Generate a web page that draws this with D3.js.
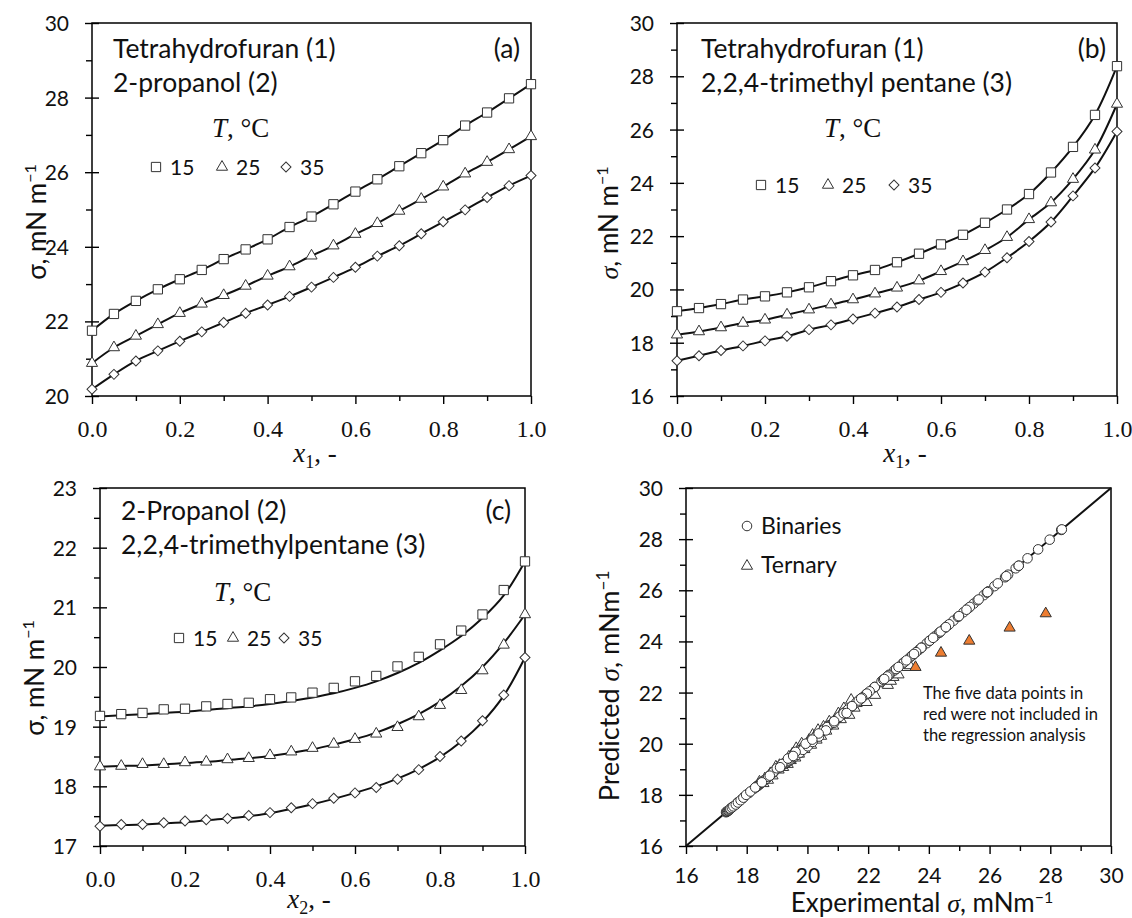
<!DOCTYPE html>
<html>
<head>
<meta charset="utf-8">
<script src="https://cdn.jsdelivr.net/npm/d3@7"></script>
<style>
  body { margin: 0; background: #fff; }
  svg text { font-family: Lato, "Open Sans", sans-serif; fill: #111; }
</style>
</head>
<body>
<svg id="chart" width="1132" height="918"></svg>
<script>
// mole fraction grid used in panels a-c
const xGrid = [0, 0.05, 0.1, 0.15, 0.2, 0.25, 0.3, 0.35, 0.4, 0.45, 0.5, 0.55, 0.6, 0.65, 0.7, 0.75, 0.8, 0.85, 0.9, 0.95, 1];

// (a) THF (1) + 2-propanol (2)
const a15 = [21.75, 22.2, 22.55, 22.86, 23.13, 23.38, 23.67, 23.93, 24.2, 24.53, 24.81, 25.14, 25.48, 25.81, 26.16, 26.51, 26.86, 27.25, 27.6, 27.98, 28.36];
const a25 = [20.88, 21.3, 21.61, 21.92, 22.22, 22.47, 22.7, 22.95, 23.22, 23.47, 23.76, 24.03, 24.34, 24.63, 24.96, 25.28, 25.61, 25.96, 26.27, 26.61, 26.96];
const a35 = [20.18, 20.58, 20.94, 21.21, 21.47, 21.72, 21.97, 22.22, 22.44, 22.67, 22.92, 23.18, 23.45, 23.75, 24.03, 24.35, 24.67, 24.99, 25.32, 25.64, 25.91];

// (b) THF (1) + isooctane (3)
const b15 = [19.18, 19.3, 19.45, 19.62, 19.74, 19.89, 20.08, 20.31, 20.53, 20.73, 21.02, 21.34, 21.69, 22.05, 22.5, 23.0, 23.58, 24.39, 25.35, 26.55, 28.38];
const b25 = [18.3, 18.42, 18.57, 18.74, 18.86, 19.05, 19.24, 19.43, 19.62, 19.84, 20.06, 20.33, 20.68, 21.05, 21.47, 21.96, 22.63, 23.26, 24.14, 25.24, 26.96];
const b35 = [17.32, 17.51, 17.71, 17.88, 18.07, 18.24, 18.49, 18.67, 18.89, 19.11, 19.34, 19.62, 19.89, 20.24, 20.65, 21.19, 21.8, 22.53, 23.51, 24.56, 25.93];

// (c) 2-propanol (2) + isooctane (3), measured and fitted
const c15 = [19.18, 19.21, 19.23, 19.29, 19.3, 19.34, 19.38, 19.4, 19.46, 19.49, 19.57, 19.65, 19.76, 19.85, 20.01, 20.17, 20.38, 20.61, 20.88, 21.29, 21.77];
const c25 = [18.33, 18.34, 18.37, 18.37, 18.4, 18.41, 18.45, 18.47, 18.52, 18.58, 18.64, 18.71, 18.79, 18.88, 18.99, 19.17, 19.36, 19.61, 19.94, 20.37, 20.88];
const c35 = [17.33, 17.36, 17.36, 17.39, 17.42, 17.44, 17.46, 17.51, 17.56, 17.64, 17.71, 17.8, 17.89, 17.98, 18.12, 18.28, 18.5, 18.76, 19.1, 19.53, 20.16];
const c15fit = [19.17, 19.19, 19.21, 19.23, 19.25, 19.28, 19.31, 19.34, 19.38, 19.43, 19.49, 19.56, 19.65, 19.76, 19.9, 20.07, 20.28, 20.52, 20.82, 21.2, 21.77];
const c25fit = [18.33, 18.34, 18.35, 18.37, 18.39, 18.41, 18.44, 18.47, 18.51, 18.56, 18.62, 18.7, 18.79, 18.9, 19.04, 19.21, 19.42, 19.68, 20.0, 20.4, 20.88];
const c35fit = [17.34, 17.35, 17.36, 17.38, 17.4, 17.43, 17.46, 17.5, 17.55, 17.62, 17.7, 17.79, 17.89, 18.0, 18.13, 18.29, 18.49, 18.75, 19.08, 19.52, 20.16];

// (d) ternary: experimental vs predicted
const ternExp = [18.42, 18.55, 18.6, 18.7, 18.78, 18.85, 18.96, 19.05, 19.08, 19.2, 19.26, 19.35, 19.39, 19.45, 19.51, 19.6, 19.63, 19.72, 19.81, 19.9, 20.05, 20.12, 20.17, 20.3, 20.35, 20.45, 20.53, 20.62, 20.72, 20.85, 21.02, 21.1, 21.2, 21.38, 21.44, 21.55, 21.62, 21.8, 21.95, 22.23, 22.41, 22.65, 22.75, 22.83, 23.0, 23.25, 23.37];
const ternPred = [18.51, 18.45, 18.64, 18.58, 18.84, 18.75, 19.1, 18.98, 19.16, 19.08, 19.29, 19.2, 19.49, 19.35, 19.62, 19.45, 19.82, 19.6, 20.0, 19.78, 20.14, 19.95, 20.34, 20.15, 20.53, 20.3, 20.66, 20.5, 20.86, 20.7, 21.18, 20.95, 21.38, 21.12, 21.71, 21.4, 21.58, 21.77, 21.62, 21.9, 22.35, 22.29, 22.45, 22.6, 22.7, 22.99, 23.06];
const exclExp = [23.56, 24.4, 25.33, 26.66, 27.85];
const exclPred = [22.99, 23.55, 24.02, 24.53, 25.09];

const temps = ["15", "25", "35"];
const shapes = ["square", "triangle", "diamond"];

const svg = d3.select("#chart");
const serif = "'Liberation Serif', 'DejaVu Serif', serif";

// marker path for a given shape name
function marker(shape) {
  if (shape == "square") return d3.symbol().type(d3.symbolSquare).size(86)();
  if (shape == "triangle") return d3.symbol().type(d3.symbolTriangle).size(54)();
  if (shape == "diamond") return d3.symbol().type(d3.symbolSquare).size(50)();
  return d3.symbol().type(d3.symbolCircle).size(72)();
}
function drawMarker(g, shape, cx, cy, fill) {
  g.append("path")
    .attr("d", marker(shape))
    .attr("transform", `translate(${cx},${cy})` + (shape == "diamond" ? " rotate(45)" : ""))
    .attr("fill", fill || "#fff")
    .attr("stroke", "#333")
    .attr("stroke-width", 1);
}

// box, ticks and labels shared by all four panels
function panel(p) {
  const g = svg.append("g").attr("transform", `translate(${p.left},${p.top})`);
  const x = d3.scaleLinear().domain(p.xDomain).range([0, p.width]);
  const y = d3.scaleLinear().domain(p.yDomain).range([p.height, 0]);

  // minor ticks
  g.append("g").attr("transform", `translate(0,${p.height})`)
    .call(d3.axisBottom(x).tickValues(p.xMinor).tickSize(5).tickFormat(""))
    .call(a => a.select(".domain").remove());
  g.append("g")
    .call(d3.axisLeft(y).tickValues(p.yMinor).tickSize(6).tickFormat(""))
    .call(a => a.select(".domain").remove());

  // major ticks
  const xa = g.append("g").attr("transform", `translate(0,${p.height})`)
    .call(d3.axisBottom(x).tickValues(p.xMajor).tickSize(8).tickPadding(p.xSerif ? 16 : 14).tickFormat(p.xFormat))
    .call(a => a.select(".domain").remove());
  xa.selectAll("text").attr("font-size", p.xSerif ? 24 : 21).style("font-family", p.xSerif ? serif : null);
  const ya = g.append("g")
    .call(d3.axisLeft(y).tickValues(p.yMajor).tickSize(7).tickPadding(16).tickFormat(d3.format("d")))
    .call(a => a.select(".domain").remove());
  ya.selectAll("text").attr("font-size", 21).attr("dy", "0.36em");
  ya.selectAll(".tick line").attr("x2", 7).attr("x1", -7);
  g.selectAll(".tick line").attr("stroke", "#000").attr("stroke-width", 1.4);

  g.append("rect")
    .attr("width", p.width).attr("height", p.height)
    .attr("fill", "none").attr("stroke", "#000").attr("stroke-width", 1.5);

  return { g: g, x: x, y: y };
}

// axis titles
function yTitle(cx, cy, italicSigma) {
  const t = svg.append("text")
    .attr("transform", `translate(${cx},${cy}) rotate(-90)`)
    .attr("text-anchor", "middle").attr("font-size", 26);
  const s = t.append("tspan").text("\u03c3");
  if (italicSigma) s.style("font-family", serif).attr("font-style", "italic");
  t.append("tspan").text(", mN m");
  t.append("tspan").attr("dy", -10).attr("font-size", 16).text("\u22121");
}
function xTitleMole(cx, cy, sub) {
  const t = svg.append("text").attr("x", cx).attr("y", cy)
    .attr("text-anchor", "middle").style("font-family", serif).attr("font-size", 27);
  t.append("tspan").attr("font-style", "italic").text("x");
  t.append("tspan").attr("dy", 6).attr("font-size", 18).text(sub);
  t.append("tspan").attr("dy", -6).text(", -");
}

// binary panels (a) - (c)
function binaryPanel(p, series, fits, txt) {
  const P = panel(p);
  const line = d3.line().x((d, i) => P.x(xGrid[i])).y(d => P.y(d)).curve(d3.curveCatmullRom);

  fits.forEach(f => {
    P.g.append("path").datum(f).attr("d", line)
      .attr("fill", "none").attr("stroke", "#111").attr("stroke-width", 2);
  });
  series.forEach((s, k) => {
    s.forEach((v, i) => drawMarker(P.g, shapes[k], P.x(xGrid[i]), P.y(v)));
  });

  // labels inside the box
  txt.lines.forEach((l, i) => {
    P.g.append("text").attr("x", txt.tx).attr("y", txt.ty + i * 34).attr("font-size", 26.5).text(l);
  });
  P.g.append("text").attr("x", p.width - txt.tagGap).attr("y", txt.ty).attr("text-anchor", "end")
    .attr("font-size", 26.5).text(txt.tag);

  const tt = P.g.append("text").attr("x", txt.Tx).attr("y", txt.Ty)
    .style("font-family", serif).attr("font-size", 27);
  tt.append("tspan").attr("font-style", "italic").text("T");
  tt.append("tspan").text(", \u00b0C");

  // temperature legend
  temps.forEach((t, k) => {
    const lx = txt.lx[k];
    drawMarker(P.g, shapes[k], lx, txt.ly);
    P.g.append("text").attr("x", lx + 14).attr("y", txt.ly + 8).attr("font-size", 21).text(t);
  });
  return P;
}

binaryPanel({
  left: 92, top: 23, width: 439, height: 373,
  xDomain: [0, 1], yDomain: [20, 30],
  xMajor: [0, 0.2, 0.4, 0.6, 0.8, 1], xMinor: [0.1, 0.3, 0.5, 0.7, 0.9],
  yMajor: [20, 22, 24, 26, 28, 30], yMinor: [21, 23, 25, 27, 29],
  xFormat: d3.format(".1f"), xSerif: true
}, [a15, a25, a35], [a15, a25, a35], {
  lines: ["Tetrahydrofuran (1)", "2-propanol (2)"], tag: "(a)", tagGap: 11, tx: 21, ty: 35,
  Tx: 120, Ty: 114, lx: [64, 130, 194], ly: 144
});
yTitle(46, 222, false);
xTitleMole(315, 462, "1");

binaryPanel({
  left: 677, top: 23, width: 440, height: 373,
  xDomain: [0, 1], yDomain: [16, 30],
  xMajor: [0, 0.2, 0.4, 0.6, 0.8, 1], xMinor: [0.1, 0.3, 0.5, 0.7, 0.9],
  yMajor: [16, 18, 20, 22, 24, 26, 28, 30], yMinor: [17, 19, 21, 23, 25, 27, 29],
  xFormat: d3.format(".1f"), xSerif: true
}, [b15, b25, b35], [b15, b25, b35], {
  lines: ["Tetrahydrofuran (1)", "2,2,4-trimethyl pentane (3)"], tag: "(b)", tagGap: 11, tx: 24, ty: 35,
  Tx: 147, Ty: 114, lx: [84, 151, 217], ly: 162
});
yTitle(618, 223, true);
xTitleMole(905, 462, "1");

binaryPanel({
  left: 100, top: 488, width: 425, height: 358,
  xDomain: [0, 1], yDomain: [17, 23],
  xMajor: [0, 0.2, 0.4, 0.6, 0.8, 1], xMinor: [0.1, 0.3, 0.5, 0.7, 0.9],
  yMajor: [17, 18, 19, 20, 21, 22, 23], yMinor: [17.5, 18.5, 19.5, 20.5, 21.5, 22.5],
  xFormat: d3.format(".1f"), xSerif: true
}, [c15, c25, c35], [c15fit, c25fit, c35fit], {
  lines: ["2-Propanol (2)", "2,2,4-trimethylpentane (3)"], tag: "(c)", tagGap: 14, tx: 21, ty: 32,
  Tx: 114, Ty: 113, lx: [79, 133, 184], ly: 150
});
yTitle(44, 678, false);
xTitleMole(309, 908, "2");

// (d) parity plot
const D = panel({
  left: 686, top: 488, width: 425, height: 358,
  xDomain: [16, 30], yDomain: [16, 30],
  xMajor: [16, 18, 20, 22, 24, 26, 28, 30], xMinor: [17, 19, 21, 23, 25, 27, 29],
  yMajor: [16, 18, 20, 22, 24, 26, 28, 30], yMinor: [17, 19, 21, 23, 25, 27, 29],
  xFormat: d3.format("d"), xSerif: false
});
D.g.append("line")
  .attr("x1", D.x(16)).attr("y1", D.y(16)).attr("x2", D.x(30)).attr("y2", D.y(30))
  .attr("stroke", "#111").attr("stroke-width", 2);

// binaries come straight from panels a-c (measured vs correlated)
const binExp = [].concat(a15, a25, a35, b15, b25, b35, c15, c25, c35);
const binPred = [].concat(a15, a25, a35, b15, b25, b35, c15fit, c25fit, c35fit);
ternExp.forEach((v, i) => drawMarker(D.g, "triangle", D.x(v), D.y(ternPred[i])));
binExp.forEach((v, i) => drawMarker(D.g, "circle", D.x(v), D.y(binPred[i])));
exclExp.forEach((v, i) => drawMarker(D.g, "triangle", D.x(v), D.y(exclPred[i]), "#ed7d31"));

drawMarker(D.g, "circle", 61, 38);
D.g.append("text").attr("x", 75).attr("y", 46).attr("font-size", 23).text("Binaries");
drawMarker(D.g, "triangle", 61, 78);
D.g.append("text").attr("x", 75).attr("y", 85).attr("font-size", 23).text("Ternary");

["The five data points in", "red were not included in", "the regression analysis"].forEach((l, i) => {
  D.g.append("text").attr("x", 237).attr("y", 211 + i * 21).attr("font-size", 16.5)
    .attr("fill", "#3a2a1a").text(l);
});

const pt = svg.append("text").attr("transform", "translate(619,686) rotate(-90)")
  .attr("text-anchor", "middle").attr("font-size", 27);
pt.append("tspan").text("Predicted ");
pt.append("tspan").style("font-family", serif).attr("font-style", "italic").text("\u03c3");
pt.append("tspan").text(", mNm");
pt.append("tspan").attr("dy", -10).attr("font-size", 17).text("\u22121");

const et = svg.append("text").attr("x", 922).attr("y", 912)
  .attr("text-anchor", "middle").attr("font-size", 26);
et.append("tspan").text("Experimental ");
et.append("tspan").style("font-family", serif).attr("font-style", "italic").text("\u03c3");
et.append("tspan").text(", mNm");
et.append("tspan").attr("dy", -9).attr("font-size", 16).text("\u22121");
</script>
</body>
</html>
